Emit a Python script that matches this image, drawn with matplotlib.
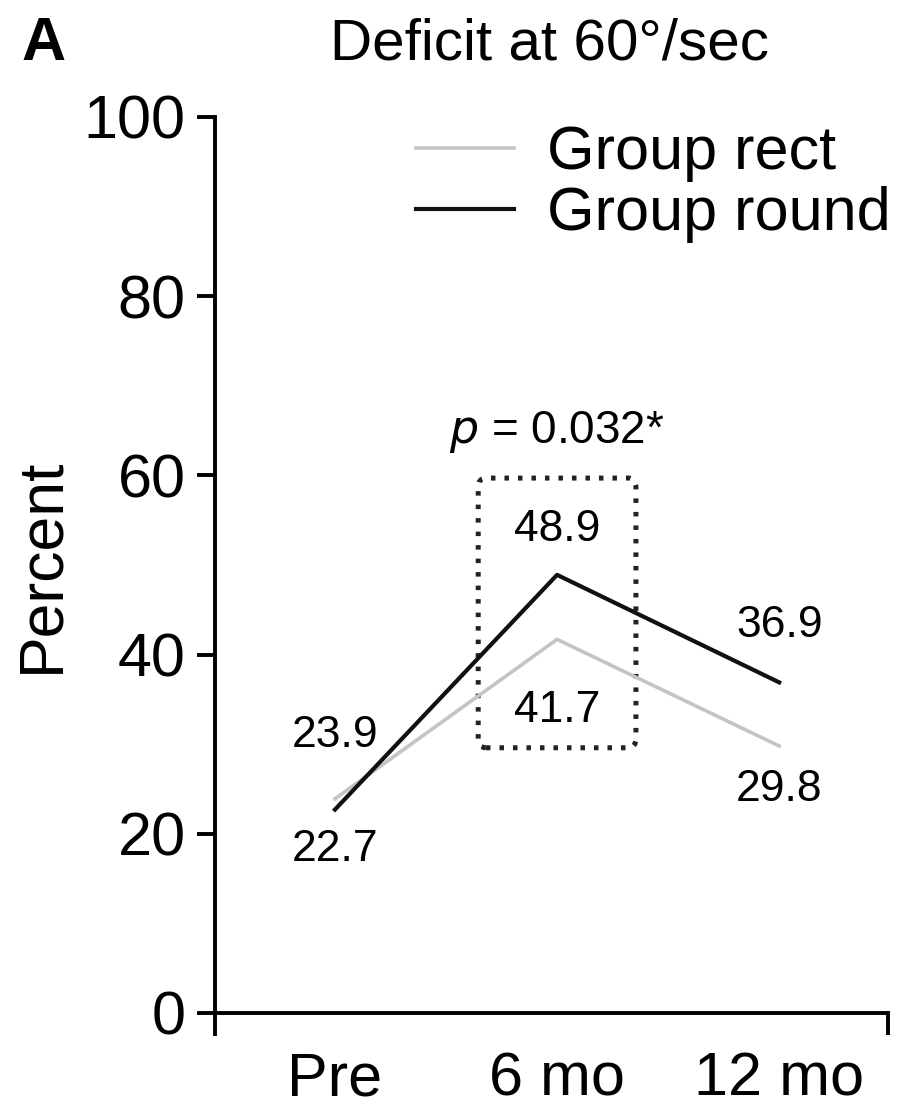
import matplotlib
matplotlib.use("Agg")
import matplotlib.pyplot as plt
from matplotlib.patches import FancyBboxPatch

plt.rcParams['font.family'] = ['Liberation Sans', 'DejaVu Sans']

# data
categories = ['Pre', '6 mo', '12 mo']
rect_vals = [23.9, 41.7, 29.8]
round_vals = [22.7, 48.9, 36.9]
yticks = [0, 20, 40, 60, 80, 100]

fig = plt.figure(figsize=(8.98, 11.1), dpi=100)
ax = fig.add_axes([0.2394, 0.0874, 0.7495, 0.8072])

x = list(range(len(categories)))
ax.plot(x, rect_vals, color='#c4c4c4', lw=2.6, label='Group rect')
ax.plot(x, round_vals, color='#111111', lw=3.0, label='Group round')

ax.set_xlim(-0.54, 2.49)
ax.set_ylim(0, 100)

# spines
for s in ['top', 'right']:
    ax.spines[s].set_visible(False)
ax.spines['left'].set_linewidth(2.8)
ax.spines['bottom'].set_linewidth(2.8)
ax.spines['left'].set_bounds(-2.4, 100)

ax.set_yticks(yticks)
ax.set_yticklabels([str(t) for t in yticks])
ax.tick_params(axis='y', direction='out', length=13, width=2.8, pad=8, labelsize=44)
ax.set_xticks(x)
ax.set_xticklabels(categories)
ax.tick_params(axis='x', length=0, pad=28, labelsize=44)
ax.set_xticks([2.49], minor=True)
ax.tick_params(axis='x', which='minor', direction='out', length=16, width=2.8)

# value labels
fs = 32
ax.text(0, 31.0, '23.9', ha='center', va='center', fontsize=fs)
ax.text(0, 18.2, '22.7', ha='center', va='center', fontsize=fs)
ax.text(1, 54.0, '48.9', ha='center', va='center', fontsize=fs)
ax.text(1, 33.8, '41.7', ha='center', va='center', fontsize=fs)
ax.text(2, 43.3, '36.9', ha='center', va='center', fontsize=fs)
ax.text(2, 24.9, '29.8', ha='center', va='center', fontsize=fs)

# dotted highlight box
box = FancyBboxPatch((0.645, 29.6), 0.71, 30.1,
                     boxstyle='round,pad=0,rounding_size=0.035',
                     mutation_aspect=30, fill=False, ec='#222222',
                     lw=3.6, ls=(0, (0.9, 1.8)))
ax.add_patch(box)
ax.text(1, 64.8, r'$p$ = 0.032*', ha='center', va='center', fontsize=33)

leg = ax.legend(loc='upper right', bbox_to_anchor=(1.086, 1.052), frameon=False,
                fontsize=44, handlelength=1.6, handletextpad=0.55,
                labelspacing=0.06)

fig.text(0.048, 0.96, 'A', fontsize=44, fontweight='bold', ha='center', va='center')
fig.text(0.612, 0.96, 'Deficit at 60°/sec', fontsize=42, ha='center', va='center')
fig.text(0.047, 0.491, 'Percent', fontsize=45, rotation=90, ha='center', va='center')

fig.savefig('out.png', dpi=100)
